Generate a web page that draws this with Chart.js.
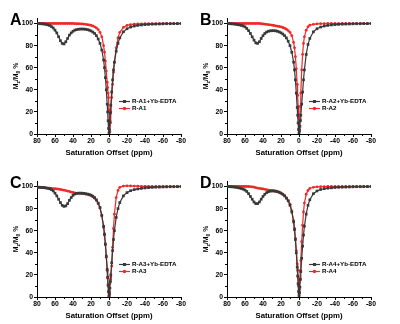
<!DOCTYPE html>
<html>
<head>
<meta charset="utf-8">
<script src="https://cdn.jsdelivr.net/npm/chart.js@4.4.1/dist/chart.umd.min.js"></script>
<style>
html, body { margin: 0; padding: 0; background: #fff; width: 400px; height: 324px; overflow: hidden; }
.panel { position: absolute; width: 200px; height: 162px; }
.letter { position: absolute; left: 10px; top: 12px; font: bold 16px/16px "Liberation Sans", Arial, sans-serif; color: #000; }
</style>
</head>
<body>
<div class="panel" style="left:0;top:0"><canvas id="chartA" width="200" height="162"></canvas><div class="letter">A</div></div>
<div class="panel" style="left:190px;top:0"><canvas id="chartB" width="200" height="162"></canvas><div class="letter">B</div></div>
<div class="panel" style="left:0;top:163px"><canvas id="chartC" width="200" height="162"></canvas><div class="letter">C</div></div>
<div class="panel" style="left:190px;top:163px"><canvas id="chartD" width="200" height="162"></canvas><div class="letter">D</div></div>
<script>
// saturation offsets (ppm), shared by all curves
const xOffsets = [80,78,76,74,72,70,68,66,64,62,60,58,56,54,52,50,48,46,44,42,40,38,36,34,32,30,28,26,24,22,20,18,16,14,12,
    10,8,6,5,4,3,2,1.5,1,0.5,0,-0.5,-1,-1.5,-2,-3,-4,-5,-6,-8,-10,
    -12,-16,-20,-24,-28,-32,-36,-40,-44,-48,-52,-56,-60,-64,-68,-72,-76,-80];

// Mz/M0 % values
const a1Yb = [100,100,99.8,99.7,99.5,99.2,98.8,98.2,97.3,96,94,91.5,88,84.5,82,81.5,83.5,86.5,89.5,91.5,93,94,94.5,94.8,95,95,95,94.8,94.5,94,93.3,92.3,91,89,86,
    82,76,67,60,51,40,27,20,12,5,1,4,11,19,26,38,49,58,65,75,82,
    87,92.5,95.3,96.8,97.7,98.3,98.7,99,99.2,99.4,99.5,99.6,99.7,99.8,99.8,99.9,99.9,100];
const a1 = [100,100,100,100,100,100,100,100,100,100,100,100,100,100,100,100,100,100,100,100,100,99.9,99.8,99.8,99.7,99.6,99.5,99.3,99,98.7,98.3,97.8,97,96,94.5,
    92,88,80,74,66,57,47,42,37,33,22,8,2,10,20,33,45,56,65,78,87,
    92,96.5,98.3,99,99.4,99.6,99.7,99.8,99.8,99.9,99.9,99.9,100,100,100,100,100,100];

const a2Yb = [100,99.9,99.8,99.7,99.5,99.3,99,98.7,98.3,97.8,97,95.5,93.5,91,88,85,82.5,82,83.5,86.5,89,91,92.3,93,93.4,93.5,93.5,93.4,93,92.4,91.6,90.5,89,87,84,
    80,74,65,58,49,37,24,17,10,4,1,3,7,12,17,27,38,49,58,72,81,
    86.5,92.5,95.3,96.8,97.7,98.3,98.7,99,99.2,99.4,99.5,99.6,99.7,99.8,99.8,99.9,99.9,100];
const a2 = [100,100,100,100,100,100,100,100,100,100,100,100,100,100,100,100,100,100,100,99.8,99.6,99.4,99.2,99,98.8,98.5,98.2,97.9,97.6,97.3,96.9,96.4,95.7,94.8,93.6,
    92,89,83,78,70,59,45,35,25,15,5,4,13,25,37,58,72,82,88,94,97,
    98.5,99.3,99.7,99.8,99.9,100,100,100,100,100,100,100,100,100,100,100,100,100];

const a3Yb = [99.5,99.4,99.3,99.1,99,98.7,98.4,98,97.2,96,94,91.5,88.5,85.5,83,82,82.5,84.5,87.5,90,92,93.2,93.8,94,94,94,93.8,93.5,93.2,92.8,92.2,91.3,90,88,85,
    81,74,64,57,48,37,25,18,11,5,1,3,8,14,20,31,42,52,60,72,80,
    85.5,91.5,94.5,96.2,97.2,97.8,98.3,98.7,99,99.2,99.4,99.5,99.6,99.7,99.8,99.8,99.9,100];
const a3 = [99.3,99.2,99.1,99,98.9,98.8,98.6,98.5,98.3,98.1,98,97.8,97.6,97.3,97,96.7,96.3,95.9,95.5,95,94.6,94.2,93.8,93.8,93.8,93.7,93.5,93.2,92.9,92.4,91.8,90.8,89.4,87.3,84.5,
    80.5,73.5,63,56,47,36,24,17,10,4,1,5,12,16,18,28,45,62,75,90,96.5,
    99.3,100.4,100.6,100.5,100.4,100.3,100.2,100.1,100.1,100,100,100,100,100,100,100,100,100];

const a4Yb = [100,99.9,99.8,99.7,99.5,99.3,99,98.6,98.2,97.6,96.8,95.5,93.5,91,88.5,86,84.5,84.5,86,88.5,91,93,94.5,95.3,95.8,96,96,95.8,95.4,94.8,94,93,91.5,89.5,87,
    83,77,68,61,52,40,27,19,12,5,1,4,9,16,23,35,46,56,64,75,83,
    88,93.5,96,97.3,98,98.5,98.8,99.1,99.3,99.4,99.5,99.6,99.7,99.8,99.8,99.9,99.9,100];
const a4 = [100,100,100,100,100,100,100,100,100,100,100,100,100,99.9,99.7,99.4,99,98.6,98.3,98,97.8,97.5,97.2,96.8,96.5,96.2,96,95.7,95.3,94.8,94.1,93.1,91.7,89.8,87.3,
    84,78,69,62,53,42,30,24,18,10,3,7,15,24,33,50,65,77,85,93,96.5,
    98.3,99.3,99.7,99.8,99.9,100,100,100,100,100,100,100,100,100,100,100,100,100];

const yTickValues = [0,20,40,60,80,100];
const xTicksMinor = [70,50,30,10,-10,-30,-50,-70];
const yTicksMinor = [10,30,50,70,90];

const darkColor = '#383838';
const redColor = 'rgb(240,40,40)';
const fontFamily = '"Liberation Sans", Arial, sans-serif';

function pairs(ys) {
    return xOffsets.map((x, i) => ({x: x, y: ys[i]}));
}

const extras = {
    id: 'extras',
    afterDraw(chart) {
        const ctx = chart.ctx;
        const area = chart.chartArea;
        const xs = chart.scales.x;
        const ys = chart.scales.y;
        ctx.save();
        // minor ticks
        ctx.strokeStyle = '#000';
        ctx.lineWidth = 1;
        ctx.beginPath();
        yTicksMinor.forEach(v => {
            const py = Math.round(ys.getPixelForValue(v)) + 0.5;
            ctx.moveTo(area.left, py);
            ctx.lineTo(area.left - 2, py);
        });
        xTicksMinor.forEach(v => {
            const px = Math.round(xs.getPixelForValue(v)) + 0.5;
            ctx.moveTo(px, area.bottom);
            ctx.lineTo(px, area.bottom + 2);
        });
        ctx.stroke();

        // legend
        const lx = area.left + 82;
        let ly = area.top + 83.5;
        chart.data.datasets.forEach(ds => {
            ctx.strokeStyle = ds.borderColor;
            ctx.fillStyle = ds.borderColor;
            ctx.lineWidth = 1.2;
            ctx.beginPath();
            ctx.moveTo(lx, ly);
            ctx.lineTo(lx + 11, ly);
            ctx.stroke();
            if (ds.pointStyle === 'rect') {
                ctx.fillRect(lx + 4, ly - 1.5, 3, 3);
            } else {
                ctx.beginPath();
                ctx.arc(lx + 5.5, ly, 1.7, 0, Math.PI * 2);
                ctx.fill();
            }
            ctx.fillStyle = '#000';
            ctx.font = 'bold 6.2px ' + fontFamily;
            ctx.textBaseline = 'middle';
            ctx.textAlign = 'left';
            ctx.fillText(ds.label, lx + 13, ly);
            ly += 7;
        });

        // y axis title with subscripts
        const parts = [['M', false], ['z', true], ['/M', false], ['0', true], [' %', false]];
        const big = 'bold 6.8px ' + fontFamily;
        const small = 'bold 5px ' + fontFamily;
        let total = 0;
        parts.forEach(p => { ctx.font = p[1] ? small : big; total += ctx.measureText(p[0]).width; });
        ctx.translate(15, (area.top + area.bottom) / 2);
        ctx.rotate(-Math.PI / 2);
        ctx.fillStyle = '#000';
        ctx.textBaseline = 'alphabetic';
        let tx = -total / 2;
        parts.forEach(p => {
            ctx.font = p[1] ? small : big;
            ctx.fillText(p[0], tx, p[1] ? 4.5 : 2.5);
            tx += ctx.measureText(p[0]).width;
        });
        ctx.restore();
    }
};

function drawPanel(id, withYb, plain, names) {
    new Chart(document.getElementById(id), {
        type: 'line',
        data: {
            datasets: [
                {
                    label: names[0],
                    data: pairs(withYb),
                    borderColor: darkColor,
                    backgroundColor: darkColor,
                    borderWidth: 1.2,
                    pointStyle: 'rect',
                    pointRadius: 1.9,
                    pointBorderWidth: 0,
                    tension: 0
                },
                {
                    label: names[1],
                    data: pairs(plain),
                    borderColor: redColor,
                    backgroundColor: redColor,
                    borderWidth: 1.2,
                    pointStyle: 'circle',
                    pointRadius: 1.4,
                    pointBorderWidth: 0,
                    tension: 0
                }
            ]
        },
        options: {
            responsive: false,
            animation: false,
            layout: {padding: {left: 0, right: 19, top: 18, bottom: 0}},
            plugins: {
                legend: {display: false},
                tooltip: {enabled: false}
            },
            scales: {
                x: {
                    type: 'linear',
                    reverse: true,
                    min: -80,
                    max: 80,
                    ticks: {stepSize: 20, color: '#000', padding: 0, maxRotation: 0, autoSkip: false,
                        font: {family: fontFamily, size: 6.8, weight: 'bold'}},
                    grid: {drawOnChartArea: false, tickLength: 3, color: '#000'},
                    border: {color: '#000', width: 1},
                    title: {display: true, text: 'Saturation Offset (ppm)', color: '#000',
                        font: {family: fontFamily, size: 7.8, weight: 'bold'}, padding: {top: 0, bottom: 4.5}},
                    afterFit(scale) { scale.height = 28; }
                },
                y: {
                    min: 0,
                    max: 105,
                    ticks: {color: '#000', padding: 1,
                        font: {family: fontFamily, size: 6.8, weight: 'bold'}},
                    afterBuildTicks(scale) { scale.ticks = yTickValues.map(v => ({value: v})); },
                    grid: {drawOnChartArea: false, tickLength: 3, color: '#000'},
                    border: {color: '#000', width: 1},
                    afterFit(scale) { scale.width = 37; }
                }
            }
        },
        plugins: [extras]
    });
}

drawPanel('chartA', a1Yb, a1, ['R-A1+Yb-EDTA', 'R-A1']);
drawPanel('chartB', a2Yb, a2, ['R-A2+Yb-EDTA', 'R-A2']);
drawPanel('chartC', a3Yb, a3, ['R-A3+Yb-EDTA', 'R-A3']);
drawPanel('chartD', a4Yb, a4, ['R-A4+Yb-EDTA', 'R-A4']);
</script>
</body>
</html>
